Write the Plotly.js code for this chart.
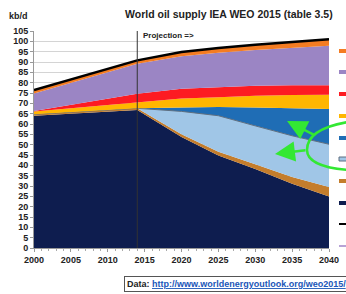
<!DOCTYPE html>
<html>
<head>
<meta charset="utf-8">
<script src="https://cdn.plot.ly/plotly-3.0.1.min.js"></script>
<style>html,body{margin:0;padding:0;background:#fff;}#chart{width:346px;height:294px;}</style>
</head>
<body>
<div id="chart"></div>
<script>
// ---- data (kb/d) ----
const years = [2000, 2014, 2020, 2025, 2030, 2035, 2040];
const navySeries   = [64.0, 66.8, 53.7, 44.8, 38.2, 31.1, 24.9];
const brownSeries  = [0.7, 0.8, 1.3, 1.8, 2.3, 3.2, 4.6];
const lightBlueSeries = [0, 0, 11.1, 17.4, 18.6, 20.0, 20.7];
const blueSeries   = [0, 0, 1.9, 4.2, 8.9, 13.3, 17.0];
const yellowSeries = [1.3, 3.0, 4.3, 4.7, 5.7, 6.4, 7.0];
const redSeries    = [0.3, 4.0, 4.7, 4.8, 4.8, 4.7, 4.5];
const purpleSeries = [8.4, 14.6, 15.8, 16.8, 17.3, 18.1, 19.2];
const orangeSeries = [1.7, 1.6, 2.0, 2.3, 2.6, 2.9, 3.1];
const totalSeries  = [76.4, 90.8, 94.8, 96.8, 98.4, 99.7, 101.0];
const xTicks = [2000, 2005, 2010, 2015, 2020, 2025, 2030, 2035, 2040];
const projectionYear = 2014;

// ---- styling ----
const FONT = 'Liberation Sans, Arial, sans-serif';
const W = 346, H = 294;
const M = {l: 34, r: 17, t: 31, b: 46};
const px = x => (x - M.l) / (W - M.l - M.r);
const py = y => (H - M.b - y) / (H - M.t - M.b);

function area(y, color, line) {
  return {
    x: years, y: y, type: 'scatter', mode: 'lines', stackgroup: 'supply',
    fillcolor: color,
    line: line || {width: 0, color: color},
    hoverinfo: 'skip'
  };
}

const traces = [
  area(navySeries, '#0e1d4f'),
  area(brownSeries, '#c47d2c'),
  area(lightBlueSeries, '#a0c6e7', {width: 1, color: '#5f6f80'}),
  area(blueSeries, '#1f6db5'),
  area(yellowSeries, '#ffb600'),
  area(redSeries, '#fd1b22'),
  area(purpleSeries, '#9b85c4'),
  area(orangeSeries, '#f47c22'),
  {x: years, y: totalSeries, type: 'scatter', mode: 'lines',
   line: {color: '#000', width: 2.5}, hoverinfo: 'skip'}
];

const shapes = [
  {type: 'line', xref: 'x', yref: 'paper', x0: projectionYear, x1: projectionYear, y0: 0, y1: 1,
   line: {color: '#333', width: 1}}
];
// legend markers (labels cut off at the right edge in the reference)
const legendBoxes = [
  [51, '#f47c22'], [72, '#9b85c4'], [94, '#fd1b22'], [116, '#ffb600'],
  [138, '#1f6db5'], [159, '#a0c6e7'], [181, '#c47d2c'], [203, '#0e1d4f']
];
legendBoxes.forEach(([yc, c], i) => {
  shapes.push({type: 'rect', xref: 'paper', yref: 'paper',
    x0: px(339), x1: px(347), y0: py(yc + 2), y1: py(yc - 2),
    fillcolor: c, line: {width: i === 5 ? 1 : 0, color: '#5f6f80'}});
});
shapes.push({type: 'line', xref: 'paper', yref: 'paper', x0: px(339), x1: px(347), y0: py(224), y1: py(224), line: {color: '#000', width: 2}});
shapes.push({type: 'line', xref: 'paper', yref: 'paper', x0: px(339), x1: px(347), y0: py(246), y1: py(246), line: {color: '#b7a3d6', width: 2}});
// green bracket
const P = (x, y) => px(x).toFixed(4) + ',' + py(y).toFixed(4);
shapes.push({type: 'path', xref: 'paper', yref: 'paper',
  path: 'M ' + P(348, 122) + ' C ' + P(318, 127) + ' ' + P(307, 138) + ' ' + P(307, 150) +
        ' C ' + P(307, 161) + ' ' + P(322, 168) + ' ' + P(348, 170),
  line: {color: '#33e833', width: 2.5}});

function arrow(tx, ty, sx, sy) {
  return {xref: 'paper', yref: 'paper', x: px(tx), y: py(ty), ax: sx - tx, ay: sy - ty,
    text: '', showarrow: true, arrowhead: 2, arrowsize: 1.6, arrowwidth: 2.5,
    arrowcolor: '#33e833', standoff: 0};
}

const annotations = [
  {xref: 'paper', yref: 'paper', x: px(229), y: py(14), xanchor: 'center', yanchor: 'middle',
   text: '<b>World oil supply IEA WEO 2015 (table 3.5)</b>', showarrow: false,
   font: {family: FONT, size: 10.5, color: '#222'}},
  {xref: 'paper', yref: 'paper', x: px(18), y: py(16), xanchor: 'center', yanchor: 'middle',
   text: '<b>kb/d</b>', showarrow: false, font: {family: FONT, size: 9, color: '#222'}},
  {xref: 'paper', yref: 'paper', x: px(141), y: py(35), xanchor: 'left', yanchor: 'middle',
   text: '<b>Projection =></b>', showarrow: false, font: {family: FONT, size: 8, color: '#222'}},
  {xref: 'paper', yref: 'paper', x: px(124), y: py(284), xanchor: 'left', yanchor: 'middle',
   text: '<b>Data: <span style="color:#1a56b8"><u>http://www.worldenergyoutlook.org/weo2015/</u></span></b>',
   showarrow: false, font: {family: FONT, size: 9, color: '#222'},
   bordercolor: '#555', borderwidth: 1, borderpad: 2, bgcolor: '#fff'},
  arrow(287, 121, 316, 136),
  arrow(275, 154, 307, 150)
];

const layout = {
  width: W, height: H, margin: M, showlegend: false,
  paper_bgcolor: '#fff', plot_bgcolor: '#fff',
  xaxis: {range: [2000, 2040], tickvals: xTicks, ticks: 'outside', ticklen: 3, tickcolor: '#999',
    showline: true, linecolor: '#999', showgrid: false, zeroline: false,
    minor: {dtick: 1, ticks: 'outside', ticklen: 2, tickcolor: '#aaa', showgrid: false},
    tickfont: {family: FONT, size: 9, color: '#222', weight: 'bold'}},
  yaxis: {range: [0, 105], dtick: 5, ticks: 'outside', ticklen: 3, tickcolor: '#999',
    showline: true, linecolor: '#999', gridcolor: '#d4d4d4', zeroline: false,
    tickfont: {family: FONT, size: 9, color: '#222', weight: 'bold'}},
  shapes: shapes, annotations: annotations
};

Plotly.newPlot('chart', traces, layout, {staticPlot: true, displayModeBar: false});
</script>
</body>
</html>
